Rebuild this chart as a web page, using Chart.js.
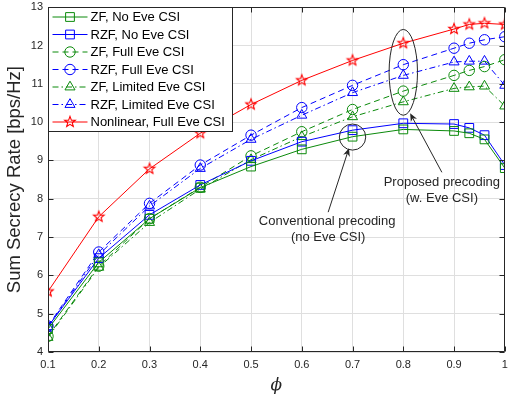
<!DOCTYPE html>
<html>
<head>
<meta charset="utf-8">
<script src="https://cdn.jsdelivr.net/npm/chart.js@4.4.0/dist/chart.umd.min.js"></script>
<style>
html, body { margin: 0; padding: 0; background: #ffffff; }
#Wrap { width: 512px; height: 403px; }
</style>
</head>
<body>
<div id="Wrap"><canvas id="Main_Chart" width="512" height="403"></canvas></div>
<script>
// values
const Phi = [0.1, 0.2, 0.3, 0.4, 0.5, 0.6, 0.7, 0.8, 0.9, 0.93, 0.96, 1];
const X_Ticks = [0.1, 0.2, 0.3, 0.4, 0.5, 0.6, 0.7, 0.8, 0.9, 1];
const Y_Ticks = [4, 5, 6, 7, 8, 9, 10, 11, 12, 13];

const ZF_No_Eve = [4.60, 6.34, 7.48, 8.29, 8.84, 9.29, 9.62, 9.81, 9.77, 9.71, 9.55, 8.80];
const RZF_No_Eve = [4.66, 6.45, 7.58, 8.36, 8.99, 9.49, 9.79, 9.97, 9.95, 9.85, 9.66, 8.88];
const ZF_Full_Eve = [4.41, 6.24, 7.48, 8.30, 9.12, 9.75, 10.33, 10.81, 11.22, 11.35, 11.45, 11.63];
const RZF_Full_Eve = [4.68, 6.61, 7.88, 8.88, 9.66, 10.38, 10.96, 11.50, 11.93, 12.06, 12.15, 12.23];
const ZF_Limited_Eve = [4.38, 6.21, 7.38, 8.25, 9.02, 9.62, 10.14, 10.53, 10.88, 10.92, 10.94, 10.42];
const RZF_Limited_Eve = [4.66, 6.54, 7.81, 8.79, 9.55, 10.18, 10.77, 11.22, 11.57, 11.59, 11.59, 10.96];
const Nonlinear_Full_Eve = [5.58, 7.53, 8.78, 9.71, 10.46, 11.09, 11.61, 12.06, 12.43, 12.55, 12.58, 12.55];

const Green = "#0b8a0b";
const Blue = "#0000ff";
const Red = "#ff0000";
const Ink = "#262626";
const Font_Family = "'Liberation Sans', Arial, Helvetica, sans-serif";

function Make_Star_Canvas(Color, Outer) {
    const Size = Math.ceil(Outer * 2 + 4);
    const Cv = document.createElement("canvas");
    Cv.width = Size;
    Cv.height = Size;
    const Ctx = Cv.getContext("2d");
    const Inner = Outer * 0.42;
    Ctx.beginPath();
    for (let i = 0; i < 10; i++) {
        const R = i % 2 === 0 ? Outer : Inner;
        const A = -Math.PI / 2 + i * Math.PI / 5;
        const Px = Size / 2 + R * Math.cos(A);
        const Py = Size / 2 + R * Math.sin(A);
        if (i === 0) Ctx.moveTo(Px, Py); else Ctx.lineTo(Px, Py);
    }
    Ctx.closePath();
    Ctx.strokeStyle = Color;
    Ctx.lineWidth = 1.1;
    Ctx.stroke();
    return Cv;
}

const Star_Marker = Make_Star_Canvas(Red, 5.6);

const Series_List = [
    { label: "ZF, No Eve CSI", data: ZF_No_Eve, color: Green, dash: [], style: "rect", radius: 6.2 },
    { label: "RZF, No Eve CSI", data: RZF_No_Eve, color: Blue, dash: [], style: "rect", radius: 6.2 },
    { label: "ZF, Full Eve CSI", data: ZF_Full_Eve, color: Green, dash: [6, 4], style: "circle", radius: 5.2 },
    { label: "RZF, Full Eve CSI", data: RZF_Full_Eve, color: Blue, dash: [6, 4], style: "circle", radius: 5.2 },
    { label: "ZF, Limited Eve CSI", data: ZF_Limited_Eve, color: Green, dash: [6, 3, 1.5, 3], style: "triangle", radius: 5.8 },
    { label: "RZF, Limited Eve CSI", data: RZF_Limited_Eve, color: Blue, dash: [6, 3, 1.5, 3], style: "triangle", radius: 5.8 },
    { label: "Nonlinear, Full Eve CSI", data: Nonlinear_Full_Eve, color: Red, dash: [], style: Star_Marker, radius: 5.6 }
];

// annotation placement in data units
const Ellipse_List = [
    { cx: 0.7, cy: 9.61, rx: 0.026, ry: 0.34 },
    { cx: 0.8, cy: 11.30, rx: 0.028, ry: 1.12 }
];
const Arrow_List = [
    { x0: 0.876, y0: 8.69, x1: 0.8135, y1: 10.23 },
    { x0: 0.652, y0: 7.65, x1: 0.693, y1: 9.32 }
];
const Note_List = [
    { x: 0.876, y: 8.43, text: "Proposed precoding" },
    { x: 0.876, y: 8.02, text: "(w. Eve CSI)" },
    { x: 0.650, y: 7.42, text: "Conventional precoding" },
    { x: 0.652, y: 7.00, text: "(no Eve CSI)" }
];

function Draw_Marker(Ctx, Style, Radius, Color, X, Y) {
    Ctx.save();
    Ctx.setLineDash([]);
    Ctx.strokeStyle = Color;
    Ctx.fillStyle = "rgba(0,0,0,0)";
    Ctx.lineWidth = 1;
    Chart.helpers.drawPoint(Ctx, { pointStyle: Style, radius: Radius, rotation: 0, borderWidth: 1 }, X, Y);
    Ctx.restore();
}

const Figure_Plugin = {
    id: "figure_extras",
    afterDatasetsDraw(chart) {
        const Ctx = chart.ctx;
        const Xs = chart.scales.x;
        const Ys = chart.scales.y;
        const Area = chart.chartArea;

        // annotations
        Ctx.save();
        Ctx.strokeStyle = Ink;
        Ctx.fillStyle = Ink;
        Ctx.lineWidth = 1;
        Ellipse_List.forEach(E => {
            const Cx = Xs.getPixelForValue(E.cx);
            const Cy = Ys.getPixelForValue(E.cy);
            const Rx = Math.abs(Xs.getPixelForValue(E.cx + E.rx) - Cx);
            const Ry = Math.abs(Ys.getPixelForValue(E.cy + E.ry) - Cy);
            Ctx.beginPath();
            Ctx.ellipse(Cx, Cy, Rx, Ry, 0, 0, Math.PI * 2);
            Ctx.stroke();
        });
        Arrow_List.forEach(A => {
            const X0 = Xs.getPixelForValue(A.x0), Y0 = Ys.getPixelForValue(A.y0);
            const X1 = Xs.getPixelForValue(A.x1), Y1 = Ys.getPixelForValue(A.y1);
            const Ang = Math.atan2(Y1 - Y0, X1 - X0);
            Ctx.beginPath();
            Ctx.moveTo(X0, Y0);
            Ctx.lineTo(X1 - 4 * Math.cos(Ang), Y1 - 4 * Math.sin(Ang));
            Ctx.stroke();
            Ctx.beginPath();
            Ctx.moveTo(X1, Y1);
            Ctx.lineTo(X1 - 8 * Math.cos(Ang) + 3.5 * Math.sin(Ang), Y1 - 8 * Math.sin(Ang) - 3.5 * Math.cos(Ang));
            Ctx.lineTo(X1 - 5.5 * Math.cos(Ang), Y1 - 5.5 * Math.sin(Ang));
            Ctx.lineTo(X1 - 8 * Math.cos(Ang) - 3.5 * Math.sin(Ang), Y1 - 8 * Math.sin(Ang) + 3.5 * Math.cos(Ang));
            Ctx.closePath();
            Ctx.fill();
        });
        Ctx.font = "13px " + Font_Family;
        Ctx.textAlign = "center";
        Ctx.textBaseline = "middle";
        Note_List.forEach(N => {
            Ctx.fillText(N.text, Xs.getPixelForValue(N.x), Ys.getPixelForValue(N.y));
        });
        Ctx.restore();

        // axes box with inward ticks
        Ctx.save();
        Ctx.strokeStyle = Ink;
        Ctx.lineWidth = 1;
        const L = Math.round(Area.left) + 0.5, R = Math.round(Area.right) - 0.5;
        const T = Math.round(Area.top) + 0.5, B = Math.round(Area.bottom) - 0.5;
        Ctx.beginPath();
        Ctx.rect(L, T, R - L, B - T);
        X_Ticks.forEach(V => {
            const Px = Math.round(Xs.getPixelForValue(V)) + 0.5;
            Ctx.moveTo(Px, B); Ctx.lineTo(Px, B - 5);
            Ctx.moveTo(Px, T); Ctx.lineTo(Px, T + 5);
        });
        Y_Ticks.forEach(V => {
            const Py = Math.round(Ys.getPixelForValue(V)) + 0.5;
            Ctx.moveTo(L, Py); Ctx.lineTo(L + 5, Py);
            Ctx.moveTo(R, Py); Ctx.lineTo(R - 5, Py);
        });
        Ctx.stroke();
        Ctx.restore();

        // legend, MATLAB style
        const Box_L = L, Box_T = T, Box_W = 184, Box_H = 124;
        Ctx.save();
        Ctx.fillStyle = "#ffffff";
        Ctx.fillRect(Box_L, Box_T, Box_W, Box_H);
        Ctx.strokeStyle = Ink;
        Ctx.lineWidth = 1;
        Ctx.strokeRect(Box_L, Box_T, Box_W, Box_H);
        Ctx.font = "13px " + Font_Family;
        Ctx.textAlign = "left";
        Ctx.textBaseline = "middle";
        Series_List.forEach((S, i) => {
            const Row_Y = Box_T + 9.5 + i * 17.5;
            Ctx.strokeStyle = S.color;
            Ctx.lineWidth = 1;
            Ctx.setLineDash(S.dash);
            Ctx.beginPath();
            Ctx.moveTo(Box_L + 4, Row_Y);
            Ctx.lineTo(Box_L + 39, Row_Y);
            Ctx.stroke();
            Ctx.setLineDash([]);
            Draw_Marker(Ctx, S.style, S.radius, S.color, Box_L + 21.5, Row_Y);
            Ctx.fillStyle = "#000000";
            Ctx.fillText(S.label, Box_L + 42, Row_Y + 0.5);
        });
        Ctx.restore();
    }
};

const Datasets = Series_List.map(S => ({
    label: S.label,
    data: Phi.map((P, i) => ({ x: P, y: S.data[i] })),
    borderColor: S.color,
    backgroundColor: "rgba(0,0,0,0)",
    borderWidth: 1,
    borderDash: S.dash,
    pointStyle: S.style,
    pointRadius: S.radius,
    pointBorderWidth: 1,
    pointBorderColor: S.color,
    pointBackgroundColor: "rgba(0,0,0,0)",
    tension: 0,
    fill: false
}));

new Chart(document.getElementById("Main_Chart"), {
    type: "line",
    data: { datasets: Datasets },
    options: {
        responsive: false,
        animation: false,
        devicePixelRatio: 1,
        events: [],
        layout: { padding: { top: 6, right: 1, bottom: 0, left: 0 } },
        plugins: { legend: { display: false }, tooltip: { enabled: false } },
        scales: {
            x: {
                type: "linear",
                min: 0.1,
                max: 1,
                afterBuildTicks: S => { S.ticks = X_Ticks.map(V => ({ value: V })); },
                afterFit: S => { S.height = 51; S.paddingLeft = 0; S.paddingRight = 0; },
                grid: { color: "#dfdfdf", drawTicks: false, lineWidth: 1 },
                border: { display: false },
                ticks: {
                    padding: 6, maxRotation: 0, autoSkip: false, color: Ink,
                    font: { family: Font_Family, size: 11 },
                    callback: V => String(+V.toFixed(1))
                },
                title: {
                    display: true, text: "\u03d5", color: Ink,
                    font: { family: "'DejaVu Serif', 'Liberation Serif', serif", size: 17, style: "italic" },
                    padding: { top: 0, bottom: 7 }
                }
            },
            y: {
                min: 4,
                max: 13,
                afterBuildTicks: S => { S.ticks = Y_Ticks.map(V => ({ value: V })); },
                afterFit: S => { S.width = 48; S.paddingTop = 0; S.paddingBottom = 0; },
                grid: { color: "#dfdfdf", drawTicks: false, lineWidth: 1 },
                border: { display: false },
                ticks: { padding: 5, color: Ink, font: { family: Font_Family, size: 11 } },
                title: {
                    display: true, text: "Sum Secrecy Rate [bps/Hz]", color: Ink,
                    font: { family: Font_Family, size: 18.5 },
                    padding: { top: 4, bottom: 0 }
                }
            }
        }
    },
    plugins: [Figure_Plugin]
});
</script>
</body>
</html>
